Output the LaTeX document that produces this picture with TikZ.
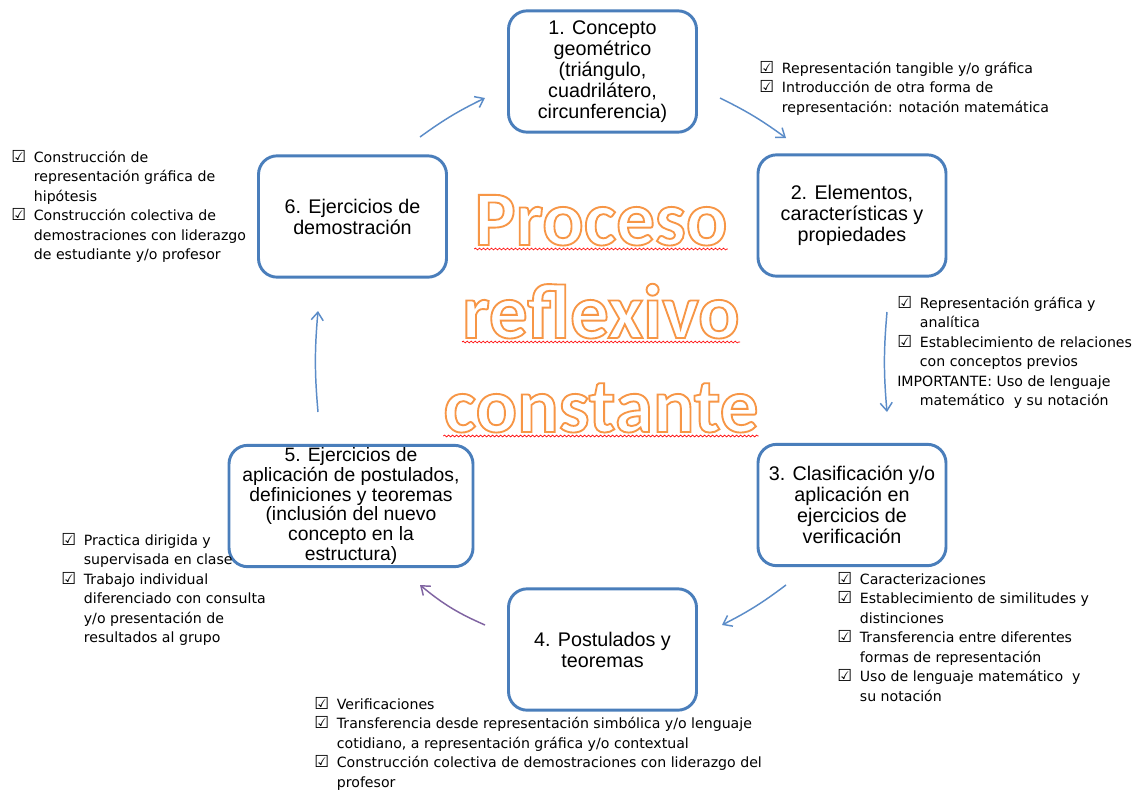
\documentclass[tikz,border=0pt]{standalone}
\usepackage{fontspec}
\setmainfont{Liberation Sans}
\newfontfamily\listfont{DejaVu Sans}
\newfontfamily\titlefont{Carlito}
\usetikzlibrary{arrows.meta,decorations.pathmorphing}
\definecolor{boxblue}{RGB}{74,126,187}
\definecolor{arrblue}{RGB}{91,140,200}
\definecolor{arrpurple}{RGB}{128,100,162}
\newcommand{\chk}{\makebox[1.6em][l]{\fontsize{12.4}{12}\selectfont ☑}}
\newcommand{\ind}{\hspace*{1.6em}}
% orange outline, white inside
\newcommand{\outl}[1]{\special{pdf:literal direct 2 Tr 1.4 w 0.969 0.588 0.275 RG 1 g}#1\special{pdf:literal direct 0 Tr 0.4 w 0 G 0 g}}

\begin{document}
\begin{tikzpicture}[x=0.75pt,y=-0.75pt,
  stage/.style={draw=boxblue,line width=2.2pt,rounded corners=14pt,align=center,
    minimum width=141pt,minimum height=91pt,inner sep=0pt,
    font=\fontsize{14.8}{15.8}\selectfont},
  checklist/.style={align=left,anchor=north west,inner sep=0pt,
    font=\listfont\fontsize{10.6}{14.6}\selectfont},
  flow/.style={draw=arrblue,line width=1.1pt,-{Straight Barb[length=6pt,width=9pt]}},
  bigword/.style={anchor=base,inner sep=0pt,font=\titlefont\bfseries\fontsize{58}{70}\selectfont},
  squiggle/.style={red,line width=0.5pt,decorate,
    decoration={snake,amplitude=0.7pt,segment length=3pt}}]
\path[use as bounding box,fill=white] (0,0) rectangle (1140,796);

% the six stages
\node[stage] (s1) at (602.5,71.5) {1. Concepto\\geométrico\\(triángulo,\\cuadrilátero,\\circunferencia)};
\node[stage] (s2) at (852,215.5) {2. Elementos,\\características y\\propiedades};
\node[stage] (s3) at (852,505) {3. Clasificación y/o\\aplicación en\\ejercicios de\\verificación};
\node[stage] (s4) at (602.5,649.5) {4. Postulados y\\teoremas};
\node[stage,minimum width=183pt,font=\fontsize{14.5}{14.8}\selectfont] (s5) at (351,506)
  {5. Ejercicios de\\aplicación de postulados,\\definiciones y teoremas\\(inclusión del nuevo\\concepto en la\\estructura)};
\node[stage] (s6) at (352.5,216.5) {6. Ejercicios de\\demostración};

% centre
\node[bigword] (w1) at (601,245) {\outl{Proceso}};
\node[bigword] (w2) at (601,338) {\outl{reflexivo}};
\node[bigword] (w3) at (601,432) {\outl{constante}};
\draw[squiggle] ([yshift=-3pt]w1.base west) -- ([yshift=-3pt]w1.base east);
\draw[squiggle] ([yshift=-3pt]w2.base west) -- ([yshift=-3pt]w2.base east);
\draw[squiggle] ([yshift=-3pt]w3.base west) -- ([yshift=-3pt]w3.base east);

% check lists
\node[checklist] (l1) at (759,61) {\chk Representación tangible y/o gráfica\\
  \chk Introducción de otra forma de\\ \ind representación: notación matemática};
\node[checklist] (l2) at (897,296) {\chk Representación gráfica y\\ \ind analítica\\
  \chk Establecimiento de relaciones\\ \ind con conceptos previos\\
  IMPORTANTE: Uso de lenguaje\\ \ind matemático\ \ y su notación};
\node[checklist] (l3) at (837,572) {\chk Caracterizaciones\\
  \chk Establecimiento de similitudes y\\ \ind distinciones\\
  \chk Transferencia entre diferentes\\ \ind formas de representación\\
  \chk Uso de lenguaje matemático\ \ y\\ \ind su notación};
\node[checklist] (l4) at (314,697) {\chk Verificaciones\\
  \chk Transferencia desde representación simbólica y/o lenguaje\\
  \ind cotidiano, a representación gráfica y/o contextual\\
  \chk Construcción colectiva de demostraciones con liderazgo del\\ \ind profesor};
\node[checklist] (l5) at (61,533) {\chk Practica dirigida y\\ \ind supervisada en clase\\
  \chk Trabajo individual\\ \ind diferenciado con consulta\\
  \ind y/o presentación de\\ \ind resultados al grupo};
\node[checklist] (l6) at (11,150) {\chk Construcción de\\ \ind representación gráfica de\\
  \ind hipótesis\\ \chk Construcción colectiva de\\
  \ind demostraciones con liderazgo\\ \ind de estudiante y/o profesor};

% cycle arrows
\coordinate (a12s) at (720,98);  \coordinate (a12e) at (786,138);
\coordinate (a23s) at (887,312); \coordinate (a23e) at (887,412);
\coordinate (a34s) at (786,585); \coordinate (a34e) at (722,625);
\coordinate (a45s) at (485,625); \coordinate (a45e) at (420,585);
\coordinate (a56s) at (318,412); \coordinate (a56e) at (318,311);
\coordinate (a61s) at (420,137); \coordinate (a61e) at (485,98);
\draw[flow] (a12s) to[bend left=5] (a12e);
\draw[flow] (a23s) to[bend right=5] (a23e);
\draw[flow] (a34s) to[bend left=5] (a34e);
\draw[flow,draw=arrpurple] (a45s) to[bend left=8] (a45e);
\draw[flow] (a56s) to[bend left=5] (a56e);
\draw[flow] (a61s) to[bend left=5] (a61e);
\end{tikzpicture}
\end{document}
